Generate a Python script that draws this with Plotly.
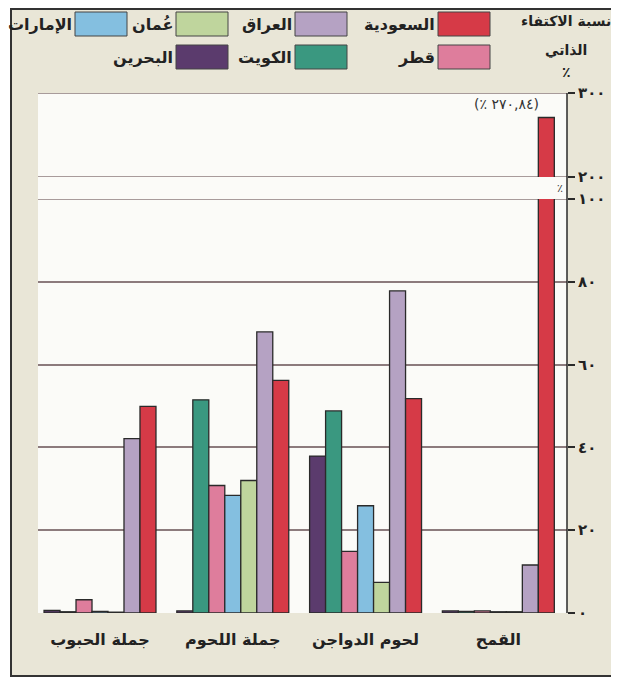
import plotly.graph_objects as go

# ---------------- data ----------------
categories = ["جملة الحبوب", "جملة اللحوم", "لحوم الدواجن", "القمح"]
series_names = ["البحرين", "الكويت", "قطر", "الإمارات", "عُمان", "العراق", "السعودية"]
series_colors = ["#5b3b6d", "#3a9880", "#de7d9c", "#84bfe0", "#bfd59d", "#b5a2c3", "#d63a47"]
bahrain = [0.6, 0.5, 37.9, 0.5]
kuwait = [0.3, 51.5, 48.8, 0.4]
qatar = [3.2, 30.8, 14.9, 0.5]
uae = [0.4, 28.4, 25.9, 0.3]
oman = [0.2, 32.0, 7.4, 0.3]
iraq = [42.1, 67.9, 77.8, 11.6]
saudi = [49.9, 56.2, 51.8, 270.84]
series_values = [bahrain, kuwait, qatar, uae, oman, iraq, saudi]

lower_ticks = [0, 20, 40, 60, 80, 100]
lower_tick_labels = ["٠", "٢٠", "٤٠", "٦٠", "٨٠", "١٠٠"]
upper_ticks = [200, 300]
upper_tick_labels = ["٢٠٠", "٣٠٠"]
title_lines = ["نسبة الاكتفاء", "الذاتي", "٪"]
peak_label = "(٪ ٢٧٠,٨٤)"
legend_rows = [["السعودية", "العراق", "عُمان", "الإمارات"], ["قطر", "الكويت", "البحرين"]]

# ---------------- layout constants (reference-window pixels) ----------------
WIN_W, WIN_H = 619, 680
OFF = 8                      # page body margin
W, H = WIN_W - OFF, WIN_H - OFF
L, R, T, B = 38, 567, 93, 613
FONT = "DejaVu Sans"
BEIGE = "#e9e6d7"
PLOTBG = "#fbfbf8"
GRID = "#8c7b7d"
DARK = "#2a2a2a"


def px(x):
    return (x - L) / (R - L)


def py(y):
    return (B - y) / (B - T)


def bold(t):
    return "<b>" + t + "</b>"


fig = go.Figure()
for name, color, vals in zip(series_names, series_colors, series_values):
    for yax in ("y", "y2"):
        fig.add_trace(go.Bar(
            x=categories, y=vals, name=name, yaxis=yax,
            marker=dict(color=color, line=dict(color=DARK, width=1.3)),
            showlegend=False, hoverinfo="skip",
        ))

shapes = []
annotations = []

# white background in the axis break
shapes.append(dict(type="rect", xref="paper", yref="paper", x0=0, x1=1,
                   y0=py(199), y1=py(177), fillcolor=PLOTBG, line=dict(width=0), layer="below"))
# grid lines at the domain edges (100, 200, 300)
for yref, yv in [("y", 100), ("y2", 200), ("y2", 300)]:
    shapes.append(dict(type="line", xref="paper", yref=yref, x0=0, x1=1, y0=yv, y1=yv,
                       line=dict(color=GRID, width=1.5), layer="below"))

# white outside the frame and the frame itself
for x0, y0, x1, y1 in [(0, 0, 11, WIN_H), (616, 0, WIN_W, WIN_H), (0, 676, WIN_W, WIN_H)]:
    shapes.append(dict(type="rect", xref="paper", yref="paper", x0=px(x0), x1=px(x1),
                       y0=py(y0), y1=py(y1), fillcolor="white", line=dict(width=0), layer="above"))
shapes.append(dict(type="rect", xref="paper", yref="paper", x0=px(11), x1=px(616),
                   y0=py(9), y1=py(676), line=dict(color="#333", width=2), layer="above"))
# continuous right axis line through the break
shapes.append(dict(type="line", xref="paper", yref="paper", x0=1, x1=1, y0=0, y1=1,
                   line=dict(color=DARK, width=1.5), layer="above"))

# custom RTL legend
col_right = [490, 347, 228, 127]
row_center = [24, 57]
name_to_color = dict(zip(series_names, series_colors))
for r, row in enumerate(legend_rows):
    for c, nm in enumerate(row):
        xr = col_right[c]
        xl = xr - 52
        yc = row_center[r]
        shapes.append(dict(type="rect", xref="paper", yref="paper", x0=px(xl), x1=px(xr),
                           y0=py(yc + 12), y1=py(yc - 12), fillcolor=name_to_color[nm],
                           line=dict(color="#444", width=1)))
        annotations.append(dict(xref="paper", yref="paper", x=px(xl - 1), y=py(yc),
                                text=bold(nm), showarrow=False, xanchor="right", yanchor="middle",
                                font=dict(family=FONT, size=16, color="#222")))

# title lines
for yv, t in zip([21, 50, 72], title_lines):
    annotations.append(dict(xref="paper", yref="paper", x=px(566), y=py(yv), text=bold(t),
                            showarrow=False, xanchor="center", yanchor="middle",
                            font=dict(family=FONT, size=14, color="#222")))

# value label of the tall bar
annotations.append(dict(xref="x", yref="y2", x=categories[3], y=saudi[3],
                        text=peak_label,
                        showarrow=False, xanchor="center", yanchor="bottom", xshift=8, yshift=3,
                        font=dict(family=FONT, size=14, color="#333")))
# % sign in the break
annotations.append(dict(xref="paper", yref="paper", x=1, y=py(188), text="٪",
                        showarrow=False, xanchor="right", yanchor="middle", xshift=-2,
                        font=dict(family=FONT, size=11, color="#333")))

axis_font = dict(family=FONT, size=15, color="#222")
fig.update_layout(
    width=W, height=H,
    margin=dict(l=L - OFF, r=WIN_W - R, t=T - OFF, b=WIN_H - B, autoexpand=False),
    paper_bgcolor=BEIGE, plot_bgcolor=PLOTBG,
    barmode="group", bargap=0.157, bargroupgap=0,
    showlegend=False,
    xaxis=dict(range=[-0.467, 3.517], showgrid=False, zeroline=False, showline=False,
               ticks="", ticklabelstandoff=15, automargin=False,
               tickvals=categories, ticktext=[bold(c) for c in categories],
               tickfont=dict(family=FONT, size=16, color="#222")),
    yaxis=dict(domain=[0, py(199)], range=[0, 100], side="right", automargin=False,
               tickvals=lower_ticks, ticktext=[bold(t) for t in lower_tick_labels],
               showgrid=True, gridcolor=GRID, gridwidth=1.5, zeroline=False,
               ticks="outside", ticklen=7, tickwidth=1.5, tickcolor=DARK,
               showline=False, tickfont=axis_font),
    yaxis2=dict(domain=[py(177), 1], range=[200, 300], side="right", anchor="x", automargin=False,
                tickvals=upper_ticks, ticktext=[bold(t) for t in upper_tick_labels],
                showgrid=True, gridcolor=GRID, gridwidth=1.5, zeroline=False,
                ticks="outside", ticklen=7, tickwidth=1.5, tickcolor=DARK,
                showline=False, tickfont=axis_font),
    shapes=shapes, annotations=annotations,
)

fig.write_html("out.html")
